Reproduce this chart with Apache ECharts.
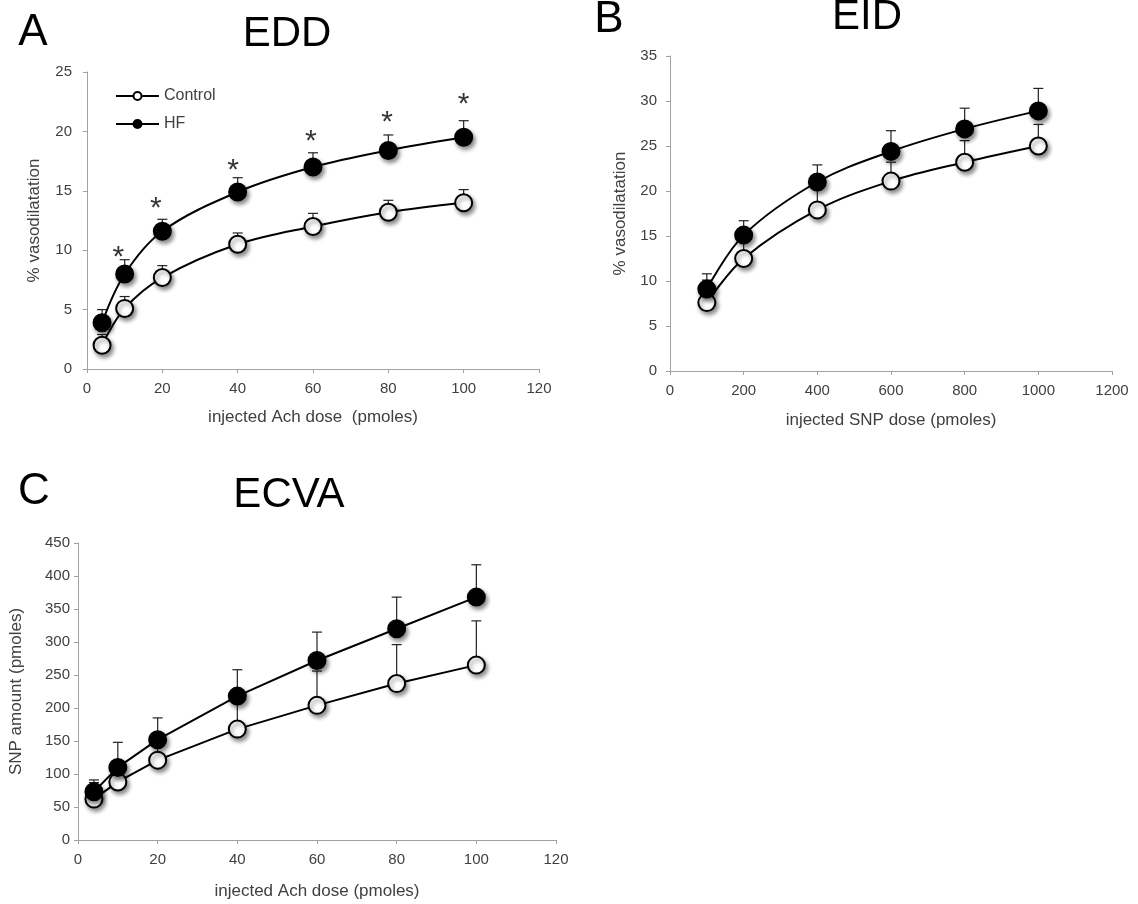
<!DOCTYPE html>
<html>
<head>
<meta charset="utf-8">
<script src="https://cdn.jsdelivr.net/npm/echarts@6/dist/echarts.min.js"></script>
<style>
  html, body { margin: 0; padding: 0; background: #fff; }
  #chart { width: 1138px; height: 904px; }
</style>
</head>
<body>
<div id="chart"></div>
<script>
// panel A - EDD
var doseAch = [4, 10, 20, 40, 60, 80, 100];
var eddControl = [2.0, 5.1, 7.7, 10.5, 12.0, 13.2, 14.0];
var eddControlErr = [0.9, 1.0, 1.0, 0.95, 1.1, 1.0, 1.1];
var eddHF = [3.9, 8.0, 11.6, 14.9, 17.0, 18.4, 19.5];
var eddHFErr = [1.1, 1.2, 1.0, 1.2, 1.2, 1.3, 1.4];
var starX = [8.3, 18.3, 38.8, 59.4, 79.7, 100];
var starY = [10.0, 14.2, 17.4, 19.8, 21.4, 22.9];

// panel B - EID
var doseSNP = [100, 200, 400, 600, 800, 1000];
var eidControl = [7.6, 12.5, 17.9, 21.1, 23.2, 25.0];
var eidControlErr = [2.5, 2.2, 2.3, 2.1, 2.4, 2.4];
var eidHF = [9.1, 15.1, 21.0, 24.4, 26.9, 28.9];
var eidHFErr = [1.7, 1.6, 1.9, 2.3, 2.3, 2.5];

// panel C - ECVA
var ecvaControl = [62, 88, 121, 168, 204, 237, 265];
var ecvaControlErr = [25, 20, 30, 45, 52, 59, 67];
var ecvaHF = [73, 110, 152, 218, 272, 320, 368];
var ecvaHFErr = [18, 38, 33, 40, 43, 48, 49];

var FONT = '"Liberation Sans", Arial, sans-serif';
var TXT = '#404040';
var AXIS = '#a0a0a0';

function zip(xs, ys, es) {
  return xs.map(function (x, i) { return es ? [x, ys[i], es[i]] : [x, ys[i]]; });
}

function xAxisOf(grid, max, interval, name, gap) {
  return {
    type: 'value', gridIndex: grid, min: 0, max: max, interval: interval,
    name: name, nameLocation: 'middle', nameGap: gap,
    nameTextStyle: { fontFamily: FONT, fontSize: 17, color: TXT },
    axisLine: { show: true, lineStyle: { color: AXIS, width: 1 } },
    axisTick: { show: true, inside: false, length: 4, lineStyle: { color: AXIS } },
    axisLabel: { fontFamily: FONT, fontSize: 15, color: TXT, margin: 12, formatter: function (v) { return String(v); } },
    splitLine: { show: false }
  };
}

function yAxisOf(grid, max, interval, name, gap, margin) {
  return {
    type: 'value', gridIndex: grid, min: 0, max: max, interval: interval,
    name: name, nameLocation: 'middle', nameGap: gap,
    nameTextStyle: { fontFamily: FONT, fontSize: 17, color: TXT },
    axisLine: { show: true, lineStyle: { color: AXIS, width: 1 } },
    axisTick: { show: true, inside: false, length: 4, lineStyle: { color: AXIS } },
    axisLabel: { fontFamily: FONT, fontSize: 15, color: TXT, margin: margin },
    splitLine: { show: false }
  };
}

var shadow = { shadowColor: 'rgba(0,0,0,0.45)', shadowBlur: 4, shadowOffsetX: 2, shadowOffsetY: 3 };

function lineOf(name, grid, data, filled, smooth) {
  return {
    name: name, type: 'line', xAxisIndex: grid, yAxisIndex: grid,
    data: data, smooth: smooth, symbol: 'circle', symbolSize: 17, z: 3,
    lineStyle: { color: '#000', width: 2 },
    itemStyle: Object.assign({ color: filled ? '#000' : '#fff', borderColor: '#000', borderWidth: 2 }, shadow),
    emphasis: { disabled: true }
  };
}

function errOf(grid, data) {
  return {
    type: 'custom', xAxisIndex: grid, yAxisIndex: grid, z: 2, silent: true,
    data: data, encode: { x: 0, y: 1 },
    renderItem: function (params, api) {
      var p = api.coord([api.value(0), api.value(1)]);
      var t = api.coord([api.value(0), api.value(1) + api.value(2)]);
      var st = { stroke: '#222', lineWidth: 1.2 };
      return {
        type: 'group',
        children: [
          { type: 'line', shape: { x1: p[0], y1: p[1], x2: t[0], y2: t[1] }, style: st },
          { type: 'line', shape: { x1: t[0] - 5, y1: t[1], x2: t[0] + 5, y2: t[1] }, style: st }
        ]
      };
    }
  };
}

function label(text, x, y, size) {
  return {
    type: 'text', x: x, y: y,
    style: { text: text, fontFamily: FONT, fontSize: size, fill: '#000', align: 'center', verticalAlign: 'middle' }
  };
}

var chart = echarts.init(document.getElementById('chart'), null, { renderer: 'canvas' });

chart.setOption({
  backgroundColor: '#fff',
  animation: false,
  graphic: [
    label('A', 33, 33, 44), label('EDD', 287, 34, 42),
    label('B', 609, 20, 44), label('EID', 867, 17, 42),
    label('C', 34, 492, 44), label('ECVA', 289, 495, 42)
  ],
  legend: {
    data: ['Control', 'HF'], orient: 'vertical', left: 115, top: 88,
    itemWidth: 43, itemHeight: 10, itemGap: 12, padding: 0,
    textStyle: { fontFamily: FONT, fontSize: 16, color: TXT },
    selectedMode: false
  },
  grid: [
    { left: 87, top: 72, width: 452, height: 297 },
    { left: 670, top: 56, width: 442, height: 315 },
    { left: 78, top: 543, width: 478, height: 297 }
  ],
  xAxis: [
    xAxisOf(0, 120, 20, 'injected Ach dose  (pmoles)', 40),
    xAxisOf(1, 1200, 200, 'injected SNP dose (pmoles)', 41),
    xAxisOf(2, 120, 20, 'injected Ach dose (pmoles)', 43)
  ],
  yAxis: [
    yAxisOf(0, 25, 5, '% vasodilatation', 44, 15),
    yAxisOf(1, 35, 5, '% vasodilatation', 41, 13),
    yAxisOf(2, 450, 50, 'SNP amount (pmoles)', 53, 8)
  ],
  series: [
    errOf(0, zip(doseAch, eddControl, eddControlErr)),
    errOf(0, zip(doseAch, eddHF, eddHFErr)),
    lineOf('Control', 0, zip(doseAch, eddControl), false, 0.35),
    lineOf('HF', 0, zip(doseAch, eddHF), true, 0.35),
    {
      type: 'scatter', xAxisIndex: 0, yAxisIndex: 0, silent: true,
      data: zip(starX, starY), symbolSize: 0,
      label: { show: true, position: 'inside', formatter: '*', fontFamily: FONT, fontSize: 30, color: '#000', offset: [0, 8] }
    },

    errOf(1, zip(doseSNP, eidControl, eidControlErr)),
    errOf(1, zip(doseSNP, eidHF, eidHFErr)),
    lineOf('Control', 1, zip(doseSNP, eidControl), false, 0.35),
    lineOf('HF', 1, zip(doseSNP, eidHF), true, 0.35),

    errOf(2, zip(doseAch, ecvaControl, ecvaControlErr)),
    errOf(2, zip(doseAch, ecvaHF, ecvaHFErr)),
    lineOf('Control', 2, zip(doseAch, ecvaControl), false, false),
    lineOf('HF', 2, zip(doseAch, ecvaHF), true, false)
  ]
});
</script>
</body>
</html>
